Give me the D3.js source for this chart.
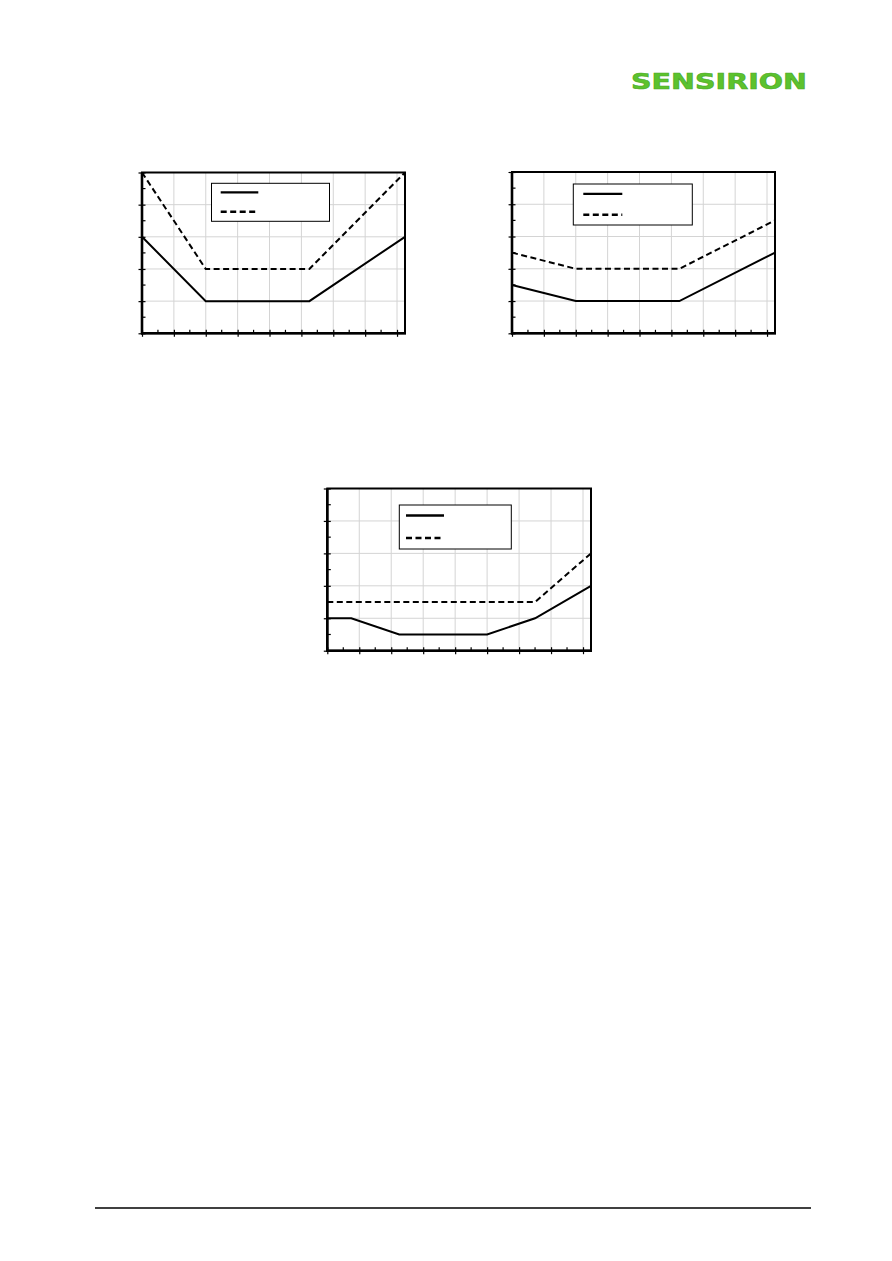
<!DOCTYPE html>
<html><head><meta charset="utf-8">
<script src="https://cdn.jsdelivr.net/npm/d3@7"></script>
<style>html,body{margin:0;padding:0;background:#fff;}svg{display:block;}</style>
</head><body>
<script>
// ---- data ----
const xTicks = [-40, -20, 0, 20, 40, 60, 80, 100, 120];
const xDomain = [-40, 125];
const yTicks = [0, 0.2, 0.4, 0.6, 0.8, 1.0];
const yDomain = [0, 1.0];

const chart1Typ = [[-40, 0.6], [0, 0.2], [65, 0.2], [125, 0.6]];
const chart1Max = [[-40, 1.0], [0, 0.4], [65, 0.4], [125, 1.0]];
const chart2Typ = [[-40, 0.3], [0, 0.2], [65, 0.2], [125, 0.5]];
const chart2Max = [[-40, 0.5], [0, 0.4], [65, 0.4], [125, 0.7]];
const chart3Typ = [[-40, 0.2], [-25, 0.2], [5, 0.1], [60, 0.1], [90, 0.2], [125, 0.4]];
const chart3Max = [[-40, 0.3], [90, 0.3], [125, 0.6]];

const W = 892, H = 1261;
const svg = d3.select("body").append("svg").attr("width", W).attr("height", H);

// logo
svg.append("text").attr("x", 631).attr("y", 89)
  .attr("font-family", "DejaVu Sans").attr("font-weight", "bold")
  .attr("font-size", 22).attr("fill", "#5cc22e")
  .attr("stroke", "#4aa824").attr("stroke-width", 0.6)
  .attr("textLength", 176).attr("lengthAdjust", "spacingAndGlyphs")
  .text("SENSIRION");

// footer line
svg.append("line").attr("x1", 95).attr("x2", 811).attr("y1", 1208).attr("y2", 1208)
  .attr("stroke", "#000").attr("stroke-width", 1.5);

const charts = [
  {typ: chart1Typ, max: chart1Max, l: 142, r: 405, t: 172.5, b: 333.3, leg: {x: 211.5, y: 183.3, w: 118, h: 38, lx1: 220.7, lx2: 258.3}},
  {typ: chart2Typ, max: chart2Max, l: 512, r: 775, t: 172, b: 333.3, leg: {x: 573.3, y: 184, w: 119, h: 41, lx1: 583.3, lx2: 622.3}},
  {typ: chart3Typ, max: chart3Max, l: 327.3, r: 591, t: 488.5, b: 650.7, leg: {x: 399.3, y: 505, w: 112, h: 44, lx1: 406, lx2: 444}}
];

charts.forEach(c => {
  const x = d3.scaleLinear().domain(xDomain).range([c.l, c.r]);
  const y = d3.scaleLinear().domain(yDomain).range([c.b, c.t]);
  const g = svg.append("g");

  // gridlines
  g.append("g").selectAll("line").data(xTicks.slice(1)).join("line")
    .attr("x1", d => x(d)).attr("x2", d => x(d)).attr("y1", c.t).attr("y2", c.b)
    .attr("stroke", "#d4d4d4").attr("stroke-width", 1);
  g.append("g").selectAll("line").data(yTicks.slice(1, -1)).join("line")
    .attr("x1", c.l).attr("x2", c.r).attr("y1", d => y(d)).attr("y2", d => y(d))
    .attr("stroke", "#d4d4d4").attr("stroke-width", 1);

  // minor ticks
  const xMinor = xTicks.map(d => d + 10).filter(d => d < xDomain[1]);
  const yMinor = yTicks.slice(0, -1).map(d => d + 0.1);
  g.append("g").selectAll("line").data(xMinor).join("line")
    .attr("x1", d => x(d)).attr("x2", d => x(d)).attr("y1", c.b).attr("y2", c.b - 3.5)
    .attr("stroke", "#000").attr("stroke-width", 1.2);
  g.append("g").selectAll("line").data(yMinor).join("line")
    .attr("x1", c.l).attr("x2", c.l + 3.5).attr("y1", d => y(d)).attr("y2", d => y(d))
    .attr("stroke", "#000").attr("stroke-width", 1.2);

  // axes with major ticks (crossing)
  const xAxis = d3.axisBottom(x).tickValues(xTicks).tickSizeInner(3.5).tickSizeOuter(0).tickFormat("");
  const ax = g.append("g").attr("transform", `translate(0,${c.b})`).call(xAxis);
  ax.select(".domain").remove();
  ax.selectAll(".tick line").attr("y1", -3.5).attr("y2", 3.5).attr("stroke-width", 1.2);
  const yAxis = d3.axisLeft(y).tickValues(yTicks).tickSizeInner(3.5).tickSizeOuter(0).tickFormat("");
  const ay = g.append("g").attr("transform", `translate(${c.l},0)`).call(yAxis);
  ay.select(".domain").remove();
  ay.selectAll(".tick line").attr("x1", -3.5).attr("x2", 3.5).attr("stroke-width", 1.2);

  // frame
  g.append("rect").attr("x", c.l).attr("y", c.t).attr("width", c.r - c.l).attr("height", c.b - c.t)
    .attr("fill", "none").attr("stroke", "#000").attr("stroke-width", 2);
  g.append("line").attr("x1", c.l).attr("x2", c.l).attr("y1", c.t).attr("y2", c.b + 1)
    .attr("stroke", "#000").attr("stroke-width", 2.6);
  g.append("line").attr("x1", c.l - 1).attr("x2", c.r + 1).attr("y1", c.b).attr("y2", c.b)
    .attr("stroke", "#000").attr("stroke-width", 2.6);

  const line = d3.line().x(d => x(d[0])).y(d => y(d[1]));
  g.append("path").datum(c.max).attr("d", line).attr("fill", "none")
    .attr("stroke", "#000").attr("stroke-width", 2).attr("stroke-dasharray", "6,3.5");
  g.append("path").datum(c.typ).attr("d", line).attr("fill", "none")
    .attr("stroke", "#000").attr("stroke-width", 2);

  // legend
  const L = c.leg;
  g.append("rect").attr("x", L.x).attr("y", L.y).attr("width", L.w).attr("height", L.h)
    .attr("fill", "#fff").attr("stroke", "#000").attr("stroke-width", 1);
  const ly1 = L.y + L.h * 0.24, ly2 = L.y + L.h * 0.75;
  g.append("line").attr("x1", L.lx1).attr("x2", L.lx2).attr("y1", ly1).attr("y2", ly1)
    .attr("stroke", "#000").attr("stroke-width", 2.4);
  g.append("line").attr("x1", L.lx1).attr("x2", L.lx2).attr("y1", ly2).attr("y2", ly2)
    .attr("stroke", "#000").attr("stroke-width", 2.4).attr("stroke-dasharray", "6,3.5");
});
</script>
</body></html>
